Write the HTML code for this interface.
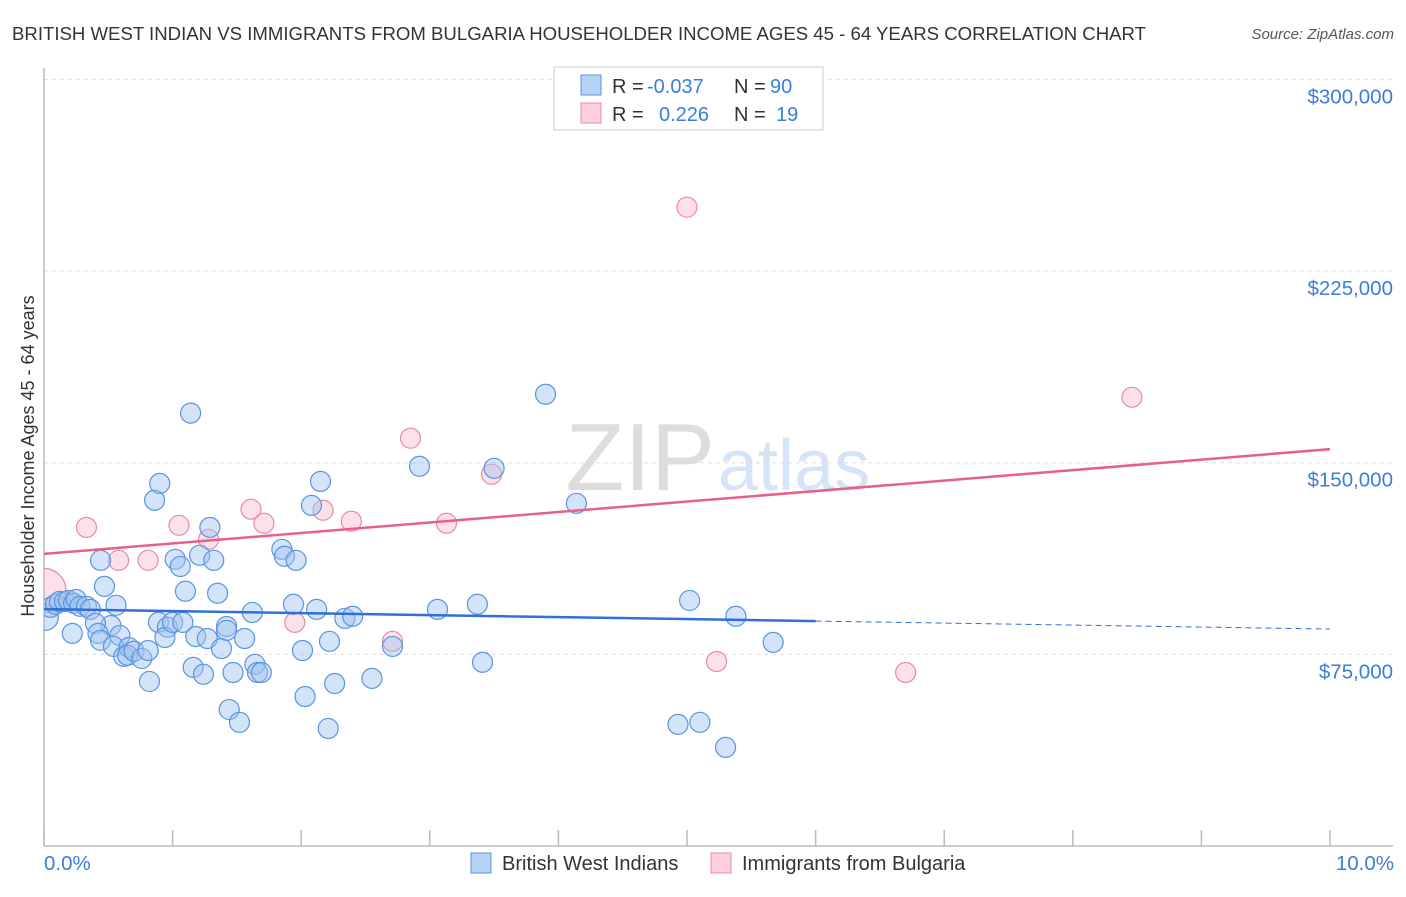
<!DOCTYPE html>
<html><head><meta charset="utf-8"><style>
body{margin:0;background:#fff;font-family:"Liberation Sans",sans-serif;}
svg text{font-family:"Liberation Sans",sans-serif;}
</style></head><body>
<svg id="chart" width="1406" height="892" viewBox="0 0 1406 892">
<defs><clipPath id="plotclip"><rect x="44" y="60" width="1360" height="786"/></clipPath></defs>
<text x="12" y="40" font-size="18" fill="#333" textLength="1134" lengthAdjust="spacingAndGlyphs">BRITISH WEST INDIAN VS IMMIGRANTS FROM BULGARIA HOUSEHOLDER INCOME AGES 45 - 64 YEARS CORRELATION CHART</text>
<text x="1394" y="39" font-size="15" fill="#555" font-style="italic" text-anchor="end">Source: ZipAtlas.com</text>
<text x="715" y="490" font-size="96" fill="#ddd" text-anchor="end" font-family="Liberation Serif">ZIP</text>
<text x="718" y="490" font-size="72" fill="#d6e4f7">atlas</text>
<g id="grid"></g>
<g id="marks" clip-path="url(#plotclip)"></g>
<text transform="translate(34,456) rotate(-90)" font-size="18" fill="#333" text-anchor="middle">Householder Income Ages 45 - 64 years</text>
<text x="44" y="870" font-size="20.5" fill="#3b7dd8">0.0%</text>
<text x="1394" y="870" font-size="20.5" fill="#3b7dd8" text-anchor="end">10.0%</text>
<g>
<rect x="554" y="67" width="269" height="63" fill="#fff" stroke="#ccc"/>
<rect x="581" y="75" width="20" height="20" fill="#b7d2f5" stroke="#5b93e0"/>
<rect x="581" y="103" width="20" height="20" fill="#fbd0dc" stroke="#e88aa8"/>
<text y="93" font-size="20" fill="#333"><tspan x="612">R =</tspan><tspan x="647" fill="#3b7dd8">-0.037</tspan><tspan x="734">N =</tspan><tspan x="770" fill="#3b7dd8">90</tspan></text>
<text y="121" font-size="20" fill="#333"><tspan x="612">R =</tspan><tspan x="659" fill="#3b7dd8">0.226</tspan><tspan x="734">N =</tspan><tspan x="776" fill="#3b7dd8">19</tspan></text>
</g>
<g>
<rect x="471" y="853" width="20" height="20" fill="#b7d2f5" stroke="#5b93e0"/>
<text x="502" y="870" font-size="20" fill="#333">British West Indians</text>
<rect x="711" y="853" width="20" height="20" fill="#fbd0dc" stroke="#e88aa8"/>
<text x="742" y="870" font-size="20" fill="#333">Immigrants from Bulgaria</text>
</g>
</svg>
<script>
const yTicks=[75,150,225,300];
const yTickLabels=["$75,000","$150,000","$225,000","$300,000"];
const xTicks=[0,1,2,3,4,5,6,7,8,9,10];
const blueX=[0.01,0.05,0.09,0.12,0.16,0.19,0.23,0.25,0.28,0.33,0.36,0.22,0.44,0.47,0.56,0.52,0.40,0.42,0.59,0.44,0.54,0.62,0.66,0.65,0.70,0.76,0.81,0.82,0.86,0.90,0.89,0.96,0.94,1.00,1.02,1.06,1.08,1.10,1.14,1.16,1.18,1.24,1.21,1.27,1.29,1.32,1.35,1.38,1.42,1.42,1.44,1.47,1.52,1.56,1.62,1.64,1.66,1.69,1.85,1.87,1.94,1.96,2.01,2.03,2.08,2.12,2.15,2.22,2.26,2.21,2.34,2.40,2.55,2.71,2.92,3.06,3.37,3.41,3.50,3.90,4.14,4.93,5.02,5.10,5.30,5.38,5.67];
const blueY=[89.5,93.4,94.6,95.7,95.7,96.1,95.0,96.5,93.8,93.8,92.6,83.2,111.8,101.6,94.2,86.3,87.1,83.2,82.4,80.5,78.1,74.2,77.7,74.6,76.2,73.4,76.5,64.4,135.3,141.9,87.5,85.6,81.6,87.5,112.2,109.4,87.5,99.7,169.4,69.9,82.0,67.2,113.8,81.2,124.7,111.8,98.9,77.3,85.9,84.4,53.4,67.9,48.4,81.2,91.4,71.1,67.9,67.9,116.1,113.4,94.6,111.8,76.5,58.5,133.3,92.6,142.7,80.1,63.6,46.0,89.1,89.9,65.6,78.1,148.6,92.6,94.6,71.9,147.8,176.8,134.1,47.6,96.1,48.4,38.6,89.9,79.7];
const pinkX=[0,0.33,0.58,0.81,1.05,1.28,1.61,1.71,2.17,2.39,1.95,2.71,2.85,3.13,3.48,5.00,5.23,6.70,8.46];
const pinkY=[100.0,124.7,111.8,111.8,125.5,120.0,131.8,126.3,131.4,127.1,87.5,80.1,159.6,126.3,145.5,250.0,72.2,67.9,175.6];
const blueTrend=[92.7,84.9];
const pinkTrend=[114.3,155.3];
const NS="http://www.w3.org/2000/svg";
const xs=v=>44+v*128.6;
const ys=v=>846-v*2.5553;
function mk(tag,attrs,parent){const e=document.createElementNS(NS,tag);for(const k in attrs)e.setAttribute(k,attrs[k]);parent.appendChild(e);return e;}
const grid=document.getElementById('grid'),marks=document.getElementById('marks');
yTicks.forEach((t,i)=>{
 const l=mk('line',{x1:44,x2:1393,y1:ys(t),y2:ys(t),stroke:'#ddd','stroke-dasharray':'4,4'},grid);
 
 
 const tx=mk('text',{x:1393,y:ys(t)+24,'font-size':20.5,fill:'#3b7dd8','text-anchor':'end'},grid);
 tx.textContent=yTickLabels[i];
 
 
});
const ax=mk('line',{x1:44,x2:44,y1:68,y2:846,stroke:'#bbb','stroke-width':1.5},grid);


const bx=mk('line',{x1:44,x2:1393,y1:846,y2:846,stroke:'#bbb','stroke-width':1.5},grid);


xTicks.forEach(t=>{
 const l=mk('line',{x1:xs(t),x2:xs(t),y1:830,y2:846,stroke:'#bbb','stroke-width':1.5},grid);
 
 
});
pinkX.forEach((x,i)=>{
 const c=mk('circle',{cx:xs(x),cy:ys(pinkY[i]),r:i==0?22:10,fill:'rgba(248,180,200,0.4)',stroke:'#e88aa8','stroke-width':1.2},marks);
 
 
});
blueX.forEach((x,i)=>{
 const c=mk('circle',{cx:xs(x),cy:ys(blueY[i]),r:i==0?13:10,fill:'rgba(160,196,240,0.45)',stroke:'#5b93e0','stroke-width':1.2},marks);
 
 
});
const bt=v=>blueTrend[0]+(blueTrend[1]-blueTrend[0])*v/10;
const b1=mk('line',{x1:xs(0),y1:ys(bt(0)),x2:xs(6),y2:ys(bt(6)),stroke:'#2f6fd6','stroke-width':2.5},marks);


const b2=mk('line',{x1:xs(6),y1:ys(bt(6)),x2:xs(10),y2:ys(bt(10)),stroke:'#2f6fd6','stroke-width':1,'stroke-dasharray':'6,4'},marks);


const p1=mk('line',{x1:xs(0),y1:ys(pinkTrend[0]),x2:xs(10),y2:ys(pinkTrend[1]),stroke:'#e5608a','stroke-width':2.5},marks);


</script>
</body></html>
